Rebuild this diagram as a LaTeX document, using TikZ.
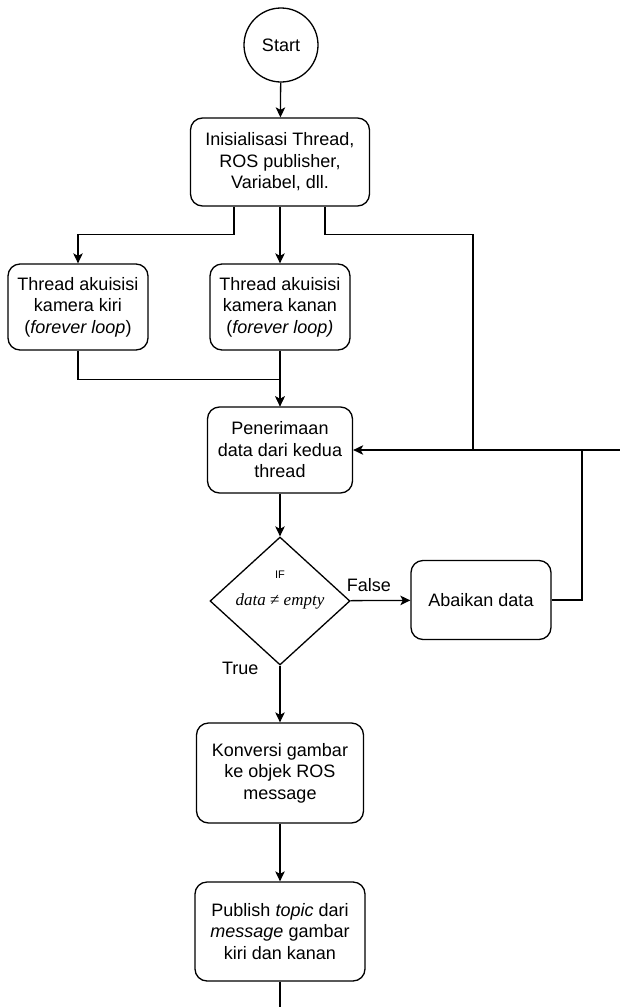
\documentclass[tikz,border=0pt]{standalone}
\usepackage{fontspec}
\setmainfont{Liberation Sans}
\newfontfamily\serifit{Liberation Serif}
\usetikzlibrary{positioning,arrows.meta,shapes.geometric}
\tikzset{
  panah/.style={-{Stealth[length=10pt,width=9.5pt,inset=2.5pt]}, line width=1.3pt},
  garis/.style={line width=1.3pt},
  kotak/.style={draw, line width=1.3pt, rounded corners=12pt, fill=white, align=center, inner sep=2pt},
  mulai/.style={draw, circle, line width=1.3pt, minimum size=74pt, inner sep=0pt},
  cabang/.style={draw, diamond, line width=1.3pt, minimum width=140pt, minimum height=128pt, inner sep=0pt, align=center},
  ket/.style={inner sep=2pt}
}

\begin{document}
\begin{tikzpicture}[x=1pt, y=-1pt, every node/.style={font=\fontsize{18}{21.5}\selectfont}]
  \useasboundingbox (0,0) rectangle (620,1007);
  % proses utama
  \node[mulai] (start) at (281,45) {Start};
  \node[kotak, minimum width=179pt, minimum height=88pt] (init) at (280,162) {Inisialisasi Thread,\\ROS publisher,\\Variabel, dll.};
  \node[kotak, minimum width=140pt, minimum height=86pt] (kiri) at (78,307) {Thread akuisisi\\kamera kiri\\(\textit{forever loop})};
  \node[kotak, minimum width=140pt, minimum height=86pt] (kanan) at (280,307) {Thread akuisisi\\kamera kanan\\(\textit{forever loop)}};
  \node[kotak, minimum width=145pt, minimum height=86pt] (terima) at (280,450) {Penerimaan\\data dari kedua\\thread};
  \node[cabang, label={[anchor=center, label distance=-38pt, font=\fontsize{11}{13}\selectfont]90:IF}] (cek) at (280,601)
    {\fontsize{17}{20}\serifit\textit{data} ≠ \textit{empty}};
  \node[kotak, minimum width=140pt, minimum height=79pt] (abaikan) at (481,600) {Abaikan data};
  \node[kotak, minimum width=167pt, minimum height=100pt] (konversi) at (280,773) {Konversi gambar\\ke objek ROS\\message};
  \node[kotak, minimum width=170pt, minimum height=99pt] (publish) at (280,931.5) {Publish \textit{topic} dari\\\textit{message} gambar\\kiri dan kanan};

  \coordinate (belok) at (473,450);
  \coordinate (balik) at (582,450);
  \coordinate (tepi) at (620,450);
  \coordinate (akhir) at (280,1007);

  % konektor
  \draw[panah] (start) -- (init);
  \draw[panah] ([xshift=-46pt]init.south) -- ++(0,28) -| (kiri.north);
  \draw[panah] (init) -- (kanan);
  \draw[garis] ([xshift=45pt]init.south) -- ++(0,28) -| (belok);
  \draw[panah] (kiri.south) -- ++(0,29) -| (terima.north);
  \draw[panah] (kanan) -- (terima);
  \draw[panah] (tepi) -- (terima.east);
  \draw[panah] (terima) -- (cek);
  \draw[panah] (cek) -- node[ket, pos=0.31, above=6pt] {False} (abaikan);
  \draw[garis] (abaikan.east) -| (balik);
  \draw[panah] (cek) -- node[ket, pos=0.04, left=19pt] {True} (konversi);
  \draw[panah] (konversi) -- (publish);
  \draw[garis] (publish) -- (akhir);
\end{tikzpicture}
\end{document}
